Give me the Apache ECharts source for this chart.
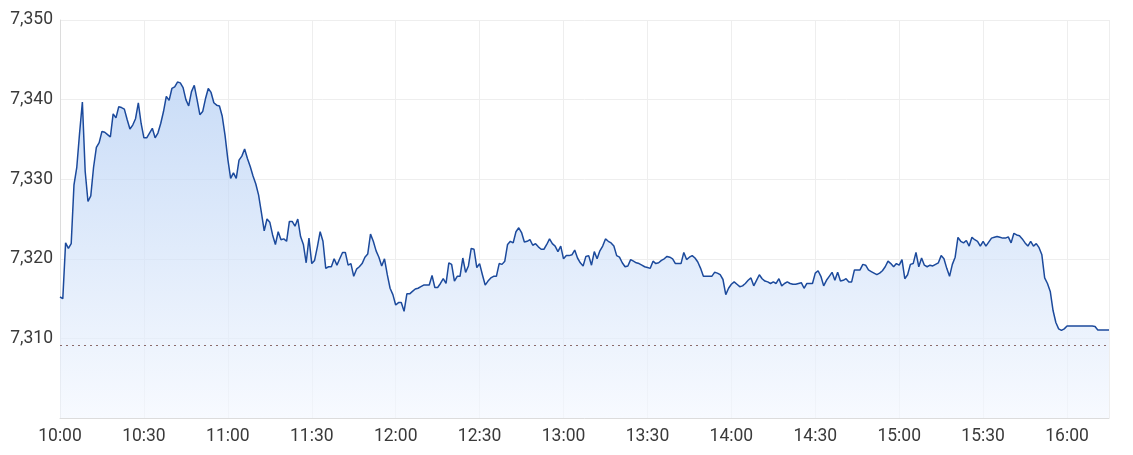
<!DOCTYPE html>
<html><head><meta charset="utf-8">
<script src="https://cdn.jsdelivr.net/npm/echarts@6/dist/echarts.min.js"></script>
<style>html,body{margin:0;padding:0;background:#fff}#c{width:1133px;height:455px}</style>
</head><body><div id="c"></div>
<script>
// minutes after 10:00, one value per minute
const values = [
7315.2,7315.0,7322.0,7321.3,7321.9,7329.3,7331.5,7335.8,7339.7,7331.0,
7327.2,7327.9,7331.5,7334.0,7334.6,7336.0,7335.9,7335.6,7335.3,7338.2,
7337.7,7339.1,7339.0,7338.8,7337.5,7336.3,7336.8,7337.6,7339.6,7337.0,
7335.2,7335.2,7335.8,7336.4,7335.2,7335.8,7337.0,7338.5,7340.4,7339.9,
7341.4,7341.6,7342.2,7342.1,7341.5,7340.0,7339.2,7341.0,7341.8,7340.0,
7338.1,7338.5,7340.1,7341.4,7340.9,7339.6,7339.3,7339.2,7337.9,7335.5,
7332.5,7330.1,7330.8,7330.1,7332.4,7332.9,7333.8,7332.6,7331.6,7330.4,
7329.4,7328.0,7325.8,7323.5,7325.0,7324.6,7323.0,7321.8,7323.4,7322.4,
7322.5,7322.2,7324.7,7324.7,7324.1,7325.0,7322.8,7321.8,7319.5,7322.6,
7319.4,7319.8,7321.5,7323.4,7322.2,7318.8,7319.0,7319.0,7320.0,7319.2,
7320.0,7320.8,7320.8,7319.2,7319.4,7317.8,7318.7,7319.0,7319.4,7320.2,
7320.6,7323.1,7322.2,7321.0,7320.2,7319.1,7320.0,7318.0,7316.3,7315.5,
7314.2,7314.5,7314.5,7313.4,7315.6,7315.6,7315.9,7316.2,7316.3,7316.5,
7316.7,7316.7,7316.7,7317.9,7316.4,7316.4,7316.9,7317.5,7316.9,7319.5,
7319.3,7317.2,7317.8,7317.8,7320.1,7318.3,7319.1,7321.3,7321.2,7318.9,
7319.4,7318.0,7316.7,7317.2,7317.6,7317.8,7317.8,7319.4,7319.3,7319.7,
7321.8,7322.2,7322.0,7323.4,7323.9,7323.3,7322.1,7322.2,7322.4,7321.7,
7321.9,7321.5,7321.2,7321.2,7321.8,7322.5,7321.9,7321.6,7320.9,7321.6,
7320.0,7320.4,7320.4,7320.5,7321.1,7320.1,7319.5,7319.1,7320.3,7320.4,
7319.2,7320.9,7320.0,7321.0,7321.6,7322.5,7322.2,7322.0,7321.6,7320.4,
7320.2,7319.5,7319.0,7319.1,7319.9,7319.7,7319.5,7319.4,7319.2,7319.0,
7318.9,7318.8,7319.7,7319.4,7319.5,7319.8,7320.0,7320.3,7320.2,7320.0,
7319.4,7319.4,7319.4,7320.8,7319.9,7320.2,7320.4,7320.1,7319.6,7318.8,
7317.8,7317.8,7317.8,7317.8,7318.3,7318.2,7318.0,7317.4,7315.5,7316.3,
7316.8,7317.1,7316.8,7316.5,7316.6,7316.9,7317.3,7317.6,7316.6,7317.3,
7318.0,7317.5,7317.2,7317.1,7316.9,7317.1,7316.9,7317.5,7316.6,7316.9,
7317.1,7316.9,7316.8,7316.8,7316.9,7317.0,7316.3,7316.9,7316.9,7316.9,
7318.2,7318.5,7317.8,7316.6,7317.3,7317.8,7318.3,7317.3,7318.3,7317.2,
7317.3,7317.5,7317.1,7317.1,7318.6,7318.6,7318.6,7319.3,7319.2,7318.6,
7318.4,7318.2,7318.0,7318.2,7318.5,7319.0,7319.7,7319.4,7319.0,7319.4,
7319.2,7319.9,7317.5,7318.0,7319.3,7319.4,7320.8,7319.0,7320.1,7319.2,
7319.0,7319.2,7319.1,7319.3,7319.5,7320.4,7320.0,7318.8,7317.8,7319.3,
7320.2,7322.7,7322.2,7322.0,7322.3,7321.6,7322.7,7322.4,7322.2,7321.6,
7322.2,7321.6,7322.1,7322.6,7322.7,7322.8,7322.7,7322.6,7322.6,7322.75,
7322.0,7323.2,7323.0,7322.9,7322.5,7322.0,7321.6,7322.2,7321.6,7321.9,
7321.4,7320.5,7317.6,7316.9,7315.9,7313.5,7312.0,7311.2,7311.0,7311.2,
7311.55,7311.55,7311.55,7311.55,7311.55,7311.55,7311.55,7311.55,7311.55,7311.55,
7311.5,7311.05,7311.05,7311.05,7311.05,7311.05
];
const tickLabels = ['10:00','10:30','11:00','11:30','12:00','12:30','13:00','13:30','14:00','14:30','15:00','15:30','16:00'];
const prevClose = [7309.16];

const data = values.map((v, i) => [i, v]);
const chart = echarts.init(document.getElementById('c'), null, {renderer: 'canvas'});
const font = 'Roboto, "Liberation Sans", Arial, sans-serif';
chart.setOption({
  animation: false,
  grid: {left: 60, right: 24, top: 20, bottom: 37, containLabel: false},
  xAxis: {
    type: 'value', min: 0, max: 375, interval: 30,
    axisLine: {show: true, lineStyle: {color: '#dcdcdc'}},
    axisTick: {show: false},
    splitLine: {show: true, lineStyle: {color: '#eeeeee'}},
    axisLabel: {
      color: '#3a3a3a', fontSize: 17.5, fontFamily: font, margin: 10,
      showMaxLabel: false,
      formatter: v => tickLabels[Math.round(v / 30)] || ''
    }
  },
  yAxis: {
    type: 'value', min: 7300, max: 7350, interval: 10,
    axisLine: {show: true, lineStyle: {color: '#dcdcdc'}},
    axisTick: {show: false},
    splitLine: {show: true, lineStyle: {color: '#eeeeee'}},
    axisLabel: {
      color: '#3a3a3a', fontSize: 17.5, fontFamily: font, margin: 7,
      showMinLabel: false,
      formatter: v => v === 7300 ? '' : v.toLocaleString('en-US')
    }
  },
  series: [{
    type: 'line', data: data, symbol: 'none', smooth: false,
    lineStyle: {color: '#1c4a9c', width: 1.5},
    areaStyle: {
      color: new echarts.graphic.LinearGradient(0, 0, 0, 1, [
        {offset: 0, color: 'rgba(178,205,243,1)'},
        {offset: 1, color: 'rgba(243,247,254,1)'}
      ])
    },
    markLine: {
      silent: true, symbol: 'none', label: {show: false},
      lineStyle: {color: '#8a6a6a', type: [2, 4], width: 1},
      data: [{yAxis: prevClose[0]}]
    }
  }]
});
</script></body></html>
